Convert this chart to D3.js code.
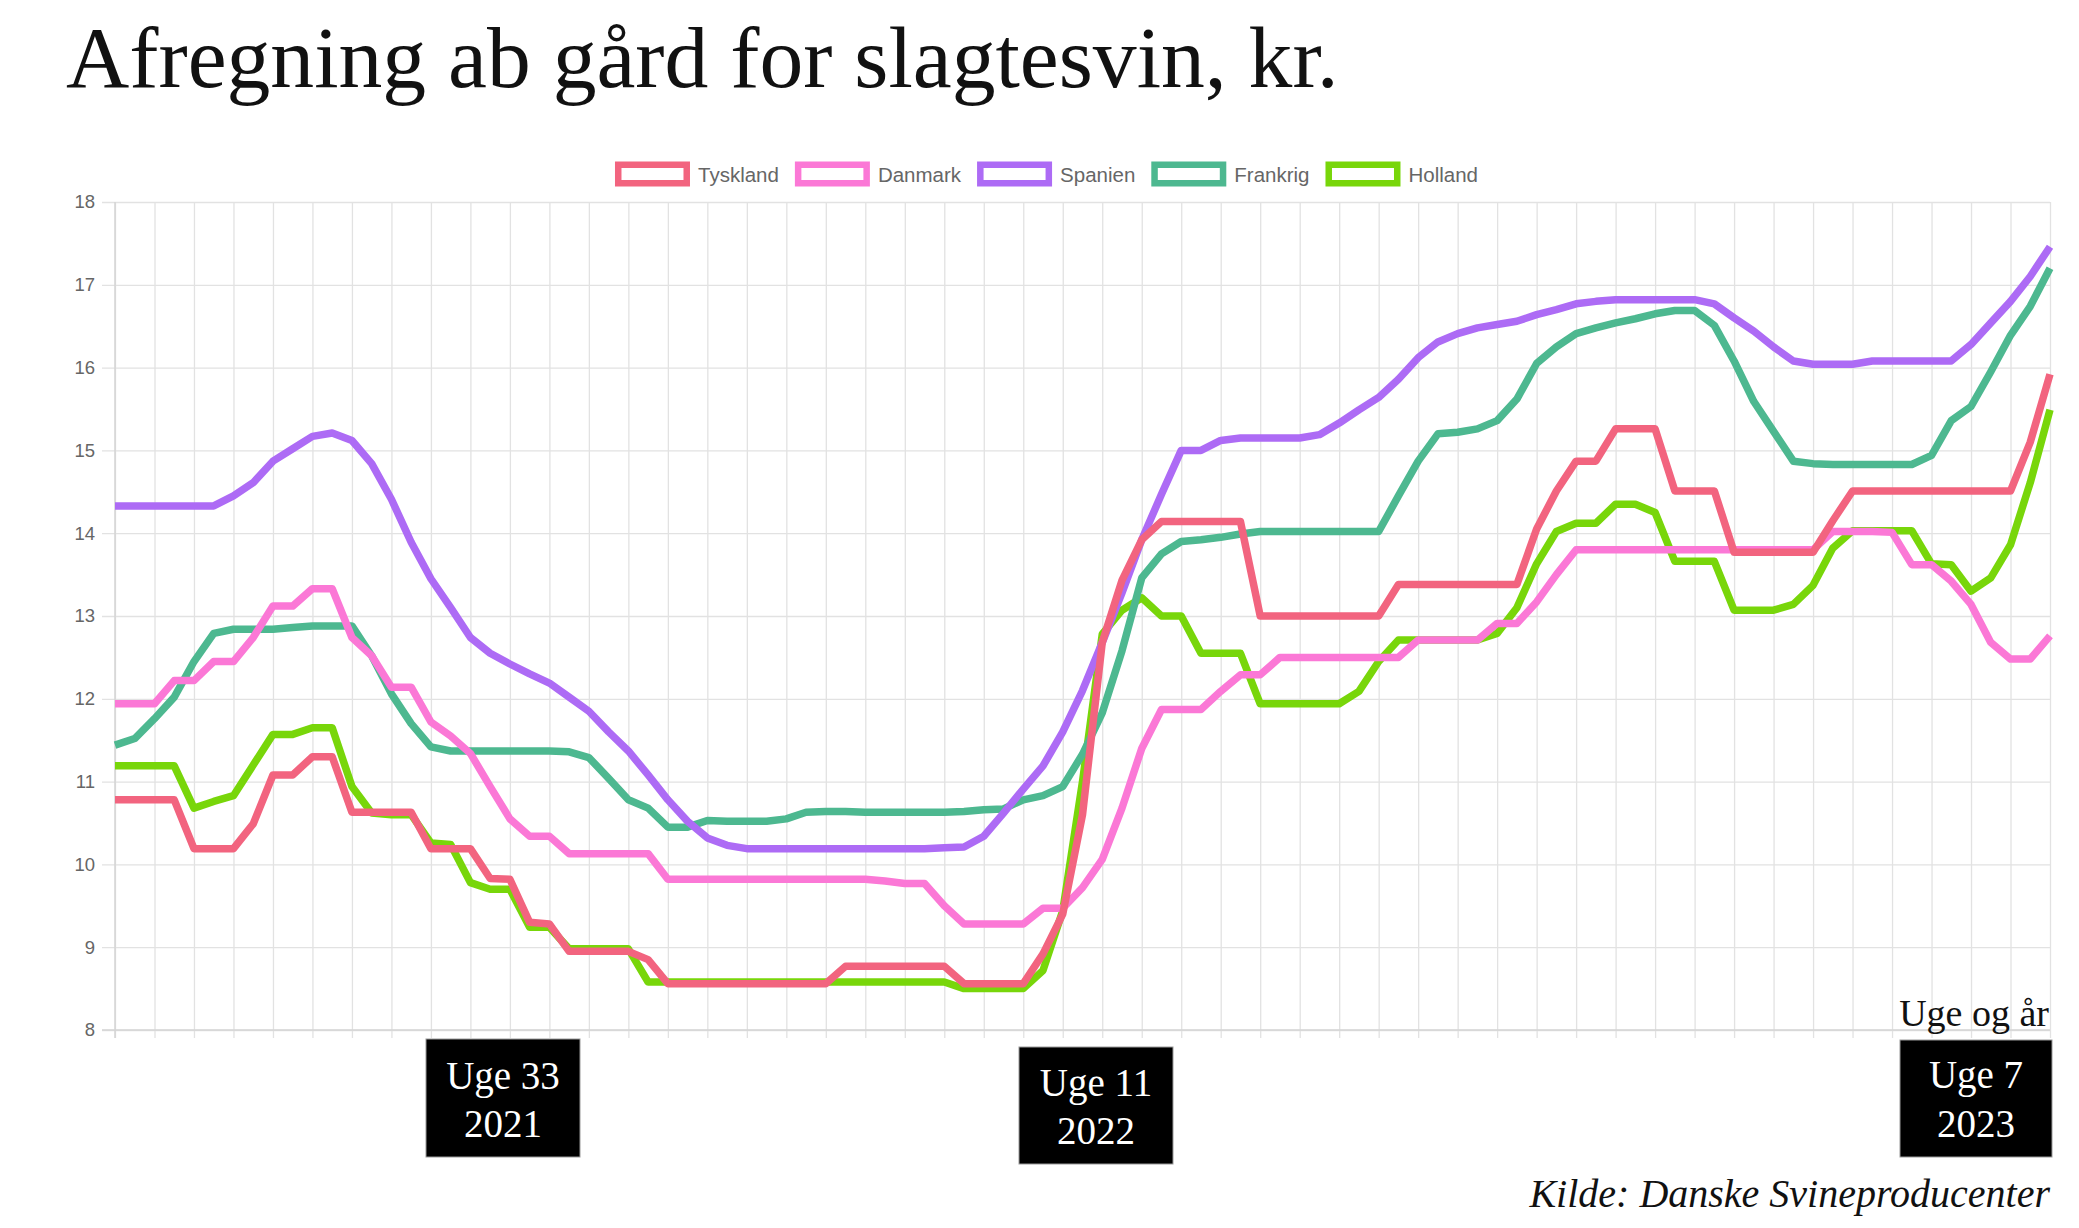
<!DOCTYPE html>
<html>
<head>
<meta charset="utf-8">
<script src="https://cdn.jsdelivr.net/npm/d3@7"></script>
<style>
  html, body { margin: 0; padding: 0; background: #fff; }
  svg { display: block; }
</style>
</head>
<body>
<svg id="chart" width="2079" height="1228"></svg>
<script>
// ---------- DATA ----------
// ISO weeks: 2021 uge 13 ... 2023 uge 7 (99 weekly points)
const weeks = [
  ...d3.range(13, 53).map(w => "Uge " + w + " 2021"),
  ...d3.range(1, 53).map(w => "Uge " + w + " 2022"),
  ...d3.range(1, 8).map(w => "Uge " + w + " 2023")
];

const seriesNames = ["Tyskland", "Danmark", "Spanien", "Frankrig", "Holland"];
const seriesColors = ["#f2647f", "#fb78d6", "#ad6bf5", "#4db890", "#78d60a"];

const tyskland = [
  10.78,10.78,10.78,10.78,10.19,10.19,10.19,10.49,11.08,11.08,
  11.30,11.30,10.63,10.63,10.63,10.63,10.19,10.19,10.19,9.83,
  9.82,9.30,9.28,8.95,8.95,8.95,8.95,8.85,8.56,8.56,
  8.56,8.56,8.56,8.56,8.56,8.56,8.56,8.77,8.77,8.77,
  8.77,8.77,8.77,8.56,8.56,8.56,8.56,8.92,9.40,10.60,
  12.68,13.43,13.92,14.14,14.14,14.14,14.14,14.14,13.00,13.00,
  13.00,13.00,13.00,13.00,13.00,13.38,13.38,13.38,13.38,13.38,
  13.38,13.38,14.05,14.51,14.87,14.87,15.26,15.26,15.26,14.51,
  14.51,14.51,13.77,13.77,13.77,13.77,13.77,14.15,14.51,14.51,
  14.51,14.51,14.51,14.51,14.51,14.51,14.51,15.10,15.92
];

const danmark = [
  11.94,11.94,11.94,12.22,12.22,12.45,12.45,12.74,13.12,13.12,
  13.33,13.33,12.74,12.52,12.14,12.14,11.72,11.55,11.34,10.94,
  10.55,10.34,10.34,10.13,10.13,10.13,10.13,10.13,9.82,9.82,
  9.82,9.82,9.82,9.82,9.82,9.82,9.82,9.82,9.82,9.80,
  9.77,9.77,9.50,9.28,9.28,9.28,9.28,9.47,9.47,9.72,
  10.06,10.68,11.40,11.87,11.87,11.87,12.09,12.29,12.29,12.50,
  12.50,12.50,12.50,12.50,12.50,12.50,12.71,12.71,12.71,12.71,
  12.91,12.91,13.17,13.50,13.80,13.80,13.80,13.80,13.80,13.80,
  13.80,13.80,13.80,13.80,13.80,13.80,13.80,14.02,14.02,14.02,
  14.01,13.62,13.62,13.42,13.14,12.68,12.48,12.48,12.76
];

const spanien = [
  14.33,14.33,14.33,14.33,14.33,14.33,14.45,14.61,14.87,15.02,
  15.17,15.21,15.12,14.84,14.41,13.89,13.45,13.10,12.74,12.55,
  12.42,12.30,12.19,12.02,11.85,11.60,11.37,11.08,10.78,10.52,
  10.32,10.23,10.19,10.19,10.19,10.19,10.19,10.19,10.19,10.19,
  10.19,10.19,10.20,10.21,10.34,10.62,10.91,11.19,11.60,12.10,
  12.68,13.28,13.92,14.47,15.00,15.00,15.12,15.15,15.15,15.15,
  15.15,15.19,15.33,15.49,15.64,15.86,16.12,16.31,16.41,16.48,
  16.52,16.56,16.64,16.70,16.77,16.80,16.82,16.82,16.82,16.82,
  16.82,16.77,16.60,16.44,16.25,16.08,16.04,16.04,16.04,16.08,
  16.08,16.08,16.08,16.08,16.28,16.54,16.80,17.10,17.46
];

const frankrig = [
  11.44,11.52,11.76,12.02,12.45,12.79,12.84,12.84,12.84,12.86,
  12.88,12.88,12.88,12.52,12.06,11.70,11.42,11.37,11.37,11.37,
  11.37,11.37,11.37,11.36,11.29,11.04,10.78,10.68,10.45,10.45,
  10.53,10.52,10.52,10.52,10.55,10.63,10.64,10.64,10.63,10.63,
  10.63,10.63,10.63,10.64,10.66,10.67,10.78,10.83,10.94,11.33,
  11.83,12.58,13.46,13.75,13.90,13.92,13.95,13.99,14.02,14.02,
  14.02,14.02,14.02,14.02,14.02,14.45,14.87,15.20,15.22,15.26,
  15.36,15.62,16.05,16.25,16.41,16.48,16.54,16.59,16.65,16.69,
  16.69,16.51,16.08,15.59,15.23,14.87,14.84,14.83,14.83,14.83,
  14.83,14.83,14.94,15.36,15.53,15.95,16.39,16.74,17.20
];

const holland = [
  11.19,11.19,11.19,11.19,10.68,10.76,10.83,11.20,11.57,11.57,
  11.65,11.65,10.94,10.62,10.60,10.60,10.26,10.24,9.78,9.70,
  9.70,9.24,9.24,8.98,8.98,8.98,8.98,8.58,8.58,8.58,
  8.58,8.58,8.58,8.58,8.58,8.58,8.58,8.58,8.58,8.58,
  8.58,8.58,8.58,8.50,8.50,8.50,8.50,8.72,9.44,11.00,
  12.78,13.07,13.22,13.00,13.00,12.55,12.55,12.55,11.94,11.94,
  11.94,11.94,11.94,12.09,12.45,12.71,12.71,12.71,12.71,12.71,
  12.79,13.10,13.63,14.02,14.12,14.12,14.35,14.35,14.25,13.66,
  13.66,13.66,13.07,13.07,13.07,13.14,13.37,13.82,14.03,14.03,
  14.03,14.03,13.63,13.62,13.30,13.46,13.86,14.61,15.49
];

const seriesValues = [tyskland, danmark, spanien, frankrig, holland];
const yTicks = [8, 9, 10, 11, 12, 13, 14, 15, 16, 17, 18];

const titleText = "Afregning ab gård for slagtesvin, kr.";
const markers = [
  { week: "Uge 33 2021", lines: ["Uge 33", "2021"] },
  { week: "Uge 11 2022", lines: ["Uge 11", "2022"] },
  { week: "Uge 7 2023",  lines: ["Uge 7", "2023"] }
];
const axisTitle = "Uge og år";
const sourceText = "Kilde: Danske Svineproducenter";

// ---------- LAYOUT ----------
const svg = d3.select("#chart");
const L = 115, R = 2050, T = 202, B = 1030;
const x = d3.scalePoint().domain(weeks).range([L, R]);
const y = d3.scaleLinear().domain([8, 18]).range([B, T]);

svg.append("rect").attr("width", 2079).attr("height", 1228).attr("fill", "#fff");

// title (fit to target width)
const title = svg.append("text")
  .attr("x", 66).attr("y", 87)
  .attr("font-family", "'Liberation Serif', 'DejaVu Serif', serif")
  .attr("font-size", 80)
  .attr("fill", "#111")
  .text(titleText);
const tw = title.node().getComputedTextLength();
title.attr("font-size", 80 * 1273 / tw);

// vertical grid via axis (every second week)
const gridX = d3.axisBottom(x)
  .tickValues(weeks.filter((d, i) => i % 2 === 0))
  .tickSize(B - T + 8)
  .tickFormat("");
svg.append("g").attr("transform", `translate(0,${T})`).call(gridX)
  .call(g => g.select(".domain").remove())
  .call(g => g.selectAll(".tick line").attr("stroke", "#e2e2e2").attr("stroke-width", 1.3));

// horizontal grid + y labels via axis
const gridY = d3.axisLeft(y)
  .tickValues(yTicks)
  .tickSize(R - L + 13)
  .tickPadding(7)
  .tickFormat(d3.format("d"));
svg.append("g").attr("transform", `translate(${R},0)`).call(gridY)
  .call(g => g.select(".domain").remove())
  .call(g => g.selectAll(".tick line").attr("stroke", "#e2e2e2").attr("stroke-width", 1.3))
  .call(g => g.selectAll(".tick text")
    .attr("fill", "#666")
    .attr("font-family", "'Liberation Sans', Arial, sans-serif")
    .attr("font-size", 18.5));

// axis borders slightly darker
svg.append("line").attr("x1", L).attr("x2", L).attr("y1", T).attr("y2", B + 8)
  .attr("stroke", "#d4d4d4").attr("stroke-width", 1.5);
svg.append("line").attr("x1", L - 13).attr("x2", R).attr("y1", B).attr("y2", B)
  .attr("stroke", "#d4d4d4").attr("stroke-width", 1.5);

// lines (first dataset on top, like Chart.js)
const line = d3.line()
  .x((d, i) => x(weeks[i]))
  .y(d => y(d))
  .curve(d3.curveLinear);

const order = d3.range(seriesNames.length).reverse();
svg.append("g").selectAll("path")
  .data(order)
  .join("path")
  .attr("d", i => line(seriesValues[i]))
  .attr("fill", "none")
  .attr("stroke", i => seriesColors[i])
  .attr("stroke-width", 7.5)
  .attr("stroke-linejoin", "round")
  .attr("stroke-linecap", "butt");

// legend
const legend = svg.append("g");
const boxW = 75, boxH = 25, gapBT = 8, gapItem = 16, legCY = 174;
const items = seriesNames.map((name, i) => {
  const g = legend.append("g");
  const t = g.append("text")
    .attr("font-family", "'Liberation Sans', Arial, sans-serif")
    .attr("font-size", 20.5)
    .attr("fill", "#666")
    .attr("dominant-baseline", "central")
    .text(name);
  return { g, t, w: t.node().getComputedTextLength(), i };
});
const totalW = d3.sum(items, d => boxW + gapBT + d.w) + gapItem * (items.length - 1);
let cx = 1046.5 - totalW / 2;
items.forEach(d => {
  d.g.insert("rect", "text")
    .attr("x", cx + 3.25).attr("y", legCY - boxH / 2 + 3.25)
    .attr("width", boxW - 6.5).attr("height", boxH - 6.5)
    .attr("fill", "#fff")
    .attr("stroke", seriesColors[d.i])
    .attr("stroke-width", 6.5);
  d.t.attr("x", cx + boxW + gapBT).attr("y", legCY);
  cx += boxW + gapBT + d.w + gapItem;
});

// week marker boxes
const boxSpecs = [
  { left: 426, top: 1039, w: 154, h: 118, b1: 1089, b2: 1137 },
  { left: 1019, top: 1047, w: 154, h: 117, b1: 1096, b2: 1144 },
  { left: 1900, top: 1040, w: 152, h: 117, b1: 1088, b2: 1137 }
];
markers.forEach((m, k) => {
  const s = boxSpecs[k];
  const g = svg.append("g");
  g.append("rect").attr("x", s.left).attr("y", s.top).attr("width", s.w).attr("height", s.h)
    .attr("fill", "#000").attr("stroke", "#999").attr("stroke-width", 1);
  [s.b1, s.b2].forEach((by, j) => {
    g.append("text")
      .attr("x", s.left + s.w / 2).attr("y", by)
      .attr("text-anchor", "middle")
      .attr("font-family", "'Liberation Serif', serif")
      .attr("font-size", 39)
      .attr("fill", "#fff")
      .text(m.lines[j]);
  });
});

// axis title and source
svg.append("text")
  .attr("x", 2049).attr("y", 1026)
  .attr("text-anchor", "end")
  .attr("font-family", "'Liberation Serif', serif")
  .attr("font-size", 38)
  .attr("fill", "#111")
  .text(axisTitle);

svg.append("text")
  .attr("x", 2050).attr("y", 1207)
  .attr("text-anchor", "end")
  .attr("font-family", "'Liberation Serif', serif")
  .attr("font-style", "italic")
  .attr("font-size", 40)
  .attr("fill", "#111")
  .text(sourceText);
</script>
</body>
</html>
